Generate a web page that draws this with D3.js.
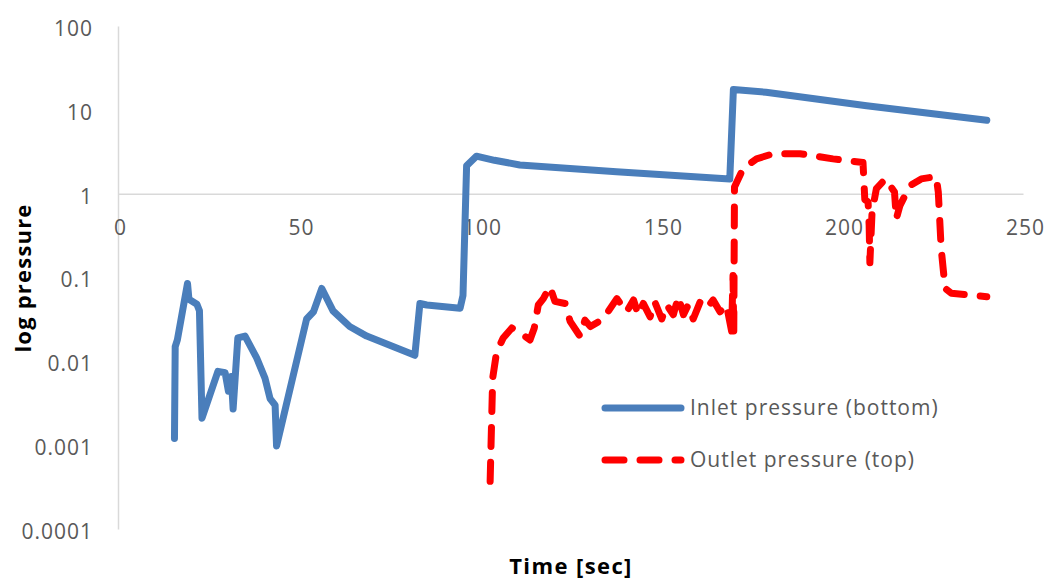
<!DOCTYPE html>
<html>
<head>
<meta charset="utf-8">
<script src="https://cdn.jsdelivr.net/npm/d3@7"></script>
<style>
  body { margin: 0; background: #fff; }
  svg text { font-family: "Open Sans", "Noto Sans", sans-serif; }
  .axis .domain { stroke: #d9d9d9; stroke-width: 1.5; }
  .axis text { fill: #595959; font-size: 21px; letter-spacing: 1px; }
</style>
</head>
<body>
<div id="chart-area"></div>
<script>
// values (time in sec, pressure on log scale)
const inletTime = [15.6, 15.8, 16.4, 19.2, 19.6, 21.8, 22.5, 23.2, 27.6, 29.6, 30.5, 31.3, 31.8, 33.1, 35.1,
  38.3, 40.6, 42.0, 43.4, 43.8, 52.1, 54.0, 56.3, 59.4, 64.0, 68.7, 82.0, 83.4, 85.3, 94.5, 95.3, 96.3,
  99.0, 104, 111, 137.7, 169, 170, 179, 206.8, 240];
const inletPressure = [0.0012, 0.015, 0.018, 0.085, 0.055, 0.048, 0.040, 0.0021, 0.0076, 0.0073, 0.0044,
  0.0066, 0.0027, 0.019, 0.020, 0.011, 0.0063, 0.0036, 0.0030, 0.00098, 0.032, 0.039, 0.074, 0.040, 0.026,
  0.020, 0.0118, 0.049, 0.047, 0.043, 0.061, 2.15, 2.8, 2.5, 2.2, 1.83, 1.5, 17.5, 16.2, 11.2, 7.5];

const outletTime = [102.8, 103.5, 104.6, 106.4, 108.8, 111, 113.8, 115, 116.1, 117.5, 119.3, 120.7, 123.5,
  124.9, 127.6, 129, 130.5, 134, 137.8, 140.5, 142.4, 143.7, 145.1, 147, 148.3, 150.2, 151.6, 153.4, 154.8,
  156.2, 157.5, 158.9, 160.8, 162.6, 164.4, 166.3, 168.1, 169.5, 169.9, 170.1, 170.3, 172.7, 176.4, 181,
  188.4, 197.5, 205.8, 206.3, 207.2, 207.5, 207.7, 208.3, 209.5, 212.0, 214.5, 215.0, 216.0, 218.8, 221.9,
  226.0, 226.6, 227.4, 228.5, 230.2, 240];
const outletPressure = [0.00037, 0.0063, 0.013, 0.019, 0.025, 0.022, 0.018, 0.025, 0.047, 0.056, 0.078,
  0.052, 0.049, 0.030, 0.020, 0.031, 0.026, 0.032, 0.056, 0.039, 0.054, 0.036, 0.049, 0.034, 0.051, 0.032,
  0.047, 0.036, 0.059, 0.036, 0.047, 0.032, 0.051, 0.043, 0.054, 0.039, 0.047, 0.023, 0.106, 0.02, 1.2, 2.0,
  2.6, 3.0, 3.0, 2.6, 2.35, 0.85, 0.8, 0.42, 0.15, 0.6, 1.15, 1.5, 1.05, 0.5, 0.72, 1.25, 1.5, 1.6, 1.05,
  0.22, 0.074, 0.065, 0.059];

const xTicks = [0, 50, 100, 150, 200, 250];
const yTicks = [0.0001, 0.001, 0.01, 0.1, 1, 10, 100];
const yTickLabels = ["0.0001", "0.001", "0.01", "0.1", "1", "10", "100"];

const seriesNames = ["Inlet pressure (bottom)", "Outlet pressure (top)"];
const seriesColors = ["#4a7ebb", "#ff0000"];

let width = 1046, height = 584;

let svg = d3.select("#chart-area")
  .append("svg")
  .attr("width", width)
  .attr("height", height);

let x = d3.scaleLinear().domain([0, 250]).range([118, 1023]);
let y = d3.scaleLog().domain([0.0001, 100]).range([529, 26]);

// axes
let xAxis = d3.axisBottom(x).tickValues(xTicks).tickSize(0).tickPadding(26);
let yAxis = d3.axisLeft(y).tickValues(yTicks)
  .tickFormat((d, i) => yTickLabels[i]).tickSize(0).tickPadding(25);

svg.append("g")
  .attr("class", "y-axis axis")
  .attr("transform", "translate(" + x(0) + ",0)")
  .call(yAxis)
  .selectAll("text").attr("dy", "0.45em");

svg.append("g")
  .attr("class", "x-axis axis")
  .attr("transform", "translate(0," + y(1) + ")")
  .call(xAxis)
  .selectAll("text").attr("dx", 2);

// lines
let line = d3.line().x(d => x(d[0])).y(d => y(d[1]));

let inlet = inletTime.map((t, i) => [t, inletPressure[i]]);
let outlet = outletTime.map((t, i) => [t, outletPressure[i]]);

svg.append("path")
  .datum(outlet)
  .attr("fill", "none")
  .attr("stroke", seriesColors[1])
  .attr("stroke-width", 7)
  .attr("stroke-linecap", "round")
  .attr("stroke-linejoin", "round")
  .attr("stroke-dasharray", "19,16")
  .attr("d", line);

svg.append("path")
  .datum(inlet)
  .attr("fill", "none")
  .attr("stroke", seriesColors[0])
  .attr("stroke-width", 7)
  .attr("stroke-linecap", "round")
  .attr("stroke-linejoin", "round")
  .attr("d", line);

// legend
let legend = svg.append("g").attr("class", "legend");
seriesNames.forEach((name, i) => {
  let ly = 408 + i * 52;
  legend.append("line")
    .attr("x1", 605).attr("x2", 681)
    .attr("y1", ly).attr("y2", ly)
    .attr("stroke", seriesColors[i])
    .attr("stroke-width", 7)
    .attr("stroke-linecap", "round")
    .attr("stroke-dasharray", i === 1 ? "19,16" : null);
  legend.append("text")
    .attr("x", 690)
    .attr("y", ly)
    .attr("dy", "0.35em")
    .attr("fill", "#595959")
    .style("font-size", "21px")
    .style("letter-spacing", "1px")
    .text(name);
});

// axis titles
svg.append("text")
  .attr("x", 571)
  .attr("y", 566)
  .attr("dy", "0.35em")
  .attr("text-anchor", "middle")
  .style("font-size", "22px")
  .style("font-weight", "bold")
  .style("letter-spacing", "1.4px")
  .text("Time [sec]");

svg.append("text")
  .attr("transform", "translate(23,278) rotate(-90)")
  .attr("dy", "0.35em")
  .attr("text-anchor", "middle")
  .style("font-size", "22px")
  .style("font-weight", "bold")
  .style("letter-spacing", "1.2px")
  .text("log pressure");
</script>
</body>
</html>
